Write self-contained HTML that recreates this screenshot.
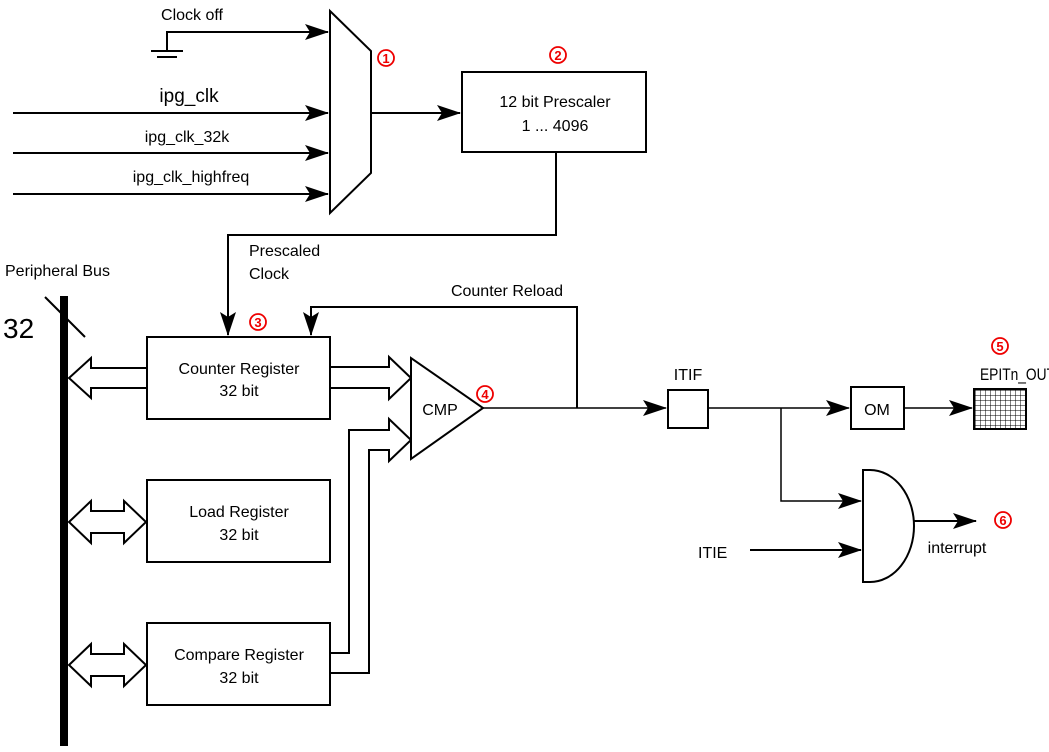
<!DOCTYPE html>
<html><head><meta charset="utf-8"><style>
html,body{margin:0;padding:0;background:#fff;}
svg{display:block;font-family:"Liberation Sans",Arial,sans-serif;}
</style></head><body>
<svg width="1049" height="752" viewBox="0 0 1049 752" xmlns="http://www.w3.org/2000/svg">
<defs>
<marker id="a" markerWidth="24" markerHeight="16" refX="23" refY="8" orient="auto" markerUnits="userSpaceOnUse">
<path d="M0,0 L24,8 L0,16 L5,8 Z" fill="#000"/></marker>
<pattern id="g" width="5" height="5" patternUnits="userSpaceOnUse"><path d="M0,0H5M0,0V5" stroke="#000" stroke-width="1" fill="none"/></pattern>
</defs>
<g stroke="#000" stroke-width="2" fill="none">
<polygon points="330,11 371,51 371,173 330,213" fill="#fff"/>
<polyline points="167,50 167,32 328,32" marker-end="url(#a)"/>
<line x1="151" y1="51" x2="183" y2="51"/>
<line x1="157" y1="57" x2="177" y2="57"/>
<line x1="13" y1="113" x2="328" y2="113" marker-end="url(#a)"/>
<line x1="13" y1="153" x2="328" y2="153" marker-end="url(#a)"/>
<line x1="13" y1="194" x2="328" y2="194" marker-end="url(#a)"/>
<line x1="371" y1="113" x2="460" y2="113" marker-end="url(#a)"/>
<rect x="462" y="72" width="184" height="80"/>
<polyline points="556,152 556,235 228,235 228,335" marker-end="url(#a)"/>
<polyline points="577,408 577,307 311,307 311,335" marker-end="url(#a)"/>
<line x1="45" y1="297" x2="85" y2="337"/>
<rect x="147" y="337" width="183" height="82"/>
<rect x="147" y="480" width="183" height="82"/>
<rect x="147" y="623" width="183" height="82"/>
<path d="M146,368 H91 V358 L69,378 L91,398 V388 H146" fill="#fff"/>
<path d="M331,367 H389 V357 L411,378 L389,399 V388 H331" fill="#fff"/>
<path d="M331,653 H349 V430 H389 V419 L411,440 L389,461 V450 H369 V673 H331" fill="#fff"/>
<path d="M69,522 L91,501 V511 H124 V501 L146,522 L124,543 V533 H91 V543 Z" fill="#fff"/>
<path d="M69,665 L91,644 V654 H124 V644 L146,665 L124,686 V676 H91 V686 Z" fill="#fff"/>
<polygon points="411,358 411,459 483,408" fill="#fff"/>
<line x1="483" y1="408" x2="666" y2="408" stroke-width="1.5" marker-end="url(#a)"/>
<rect x="668" y="390" width="40" height="38"/>
<line x1="708" y1="408" x2="849" y2="408" stroke-width="1.5" marker-end="url(#a)"/>
<polyline points="781,408 781,501 861,501" stroke-width="1.5" marker-end="url(#a)"/>
<rect x="851" y="387" width="53" height="42"/>
<line x1="904" y1="408" x2="972" y2="408" stroke-width="1.5" marker-end="url(#a)"/>
<rect x="974" y="389" width="52" height="40" fill="url(#g)"/>
<path d="M863,470 H870 A44,56 0 0 1 870,582 H863 Z" fill="#fff"/>
<line x1="914" y1="521" x2="976" y2="521" marker-end="url(#a)"/>
<line x1="750" y1="550" x2="861" y2="550" marker-end="url(#a)"/>
</g>
<rect x="60" y="296" width="8" height="450" fill="#000"/>
<g font-size="16" fill="#000" text-anchor="middle">
<text x="192" y="20">Clock off</text>
<text x="189" y="102" font-size="19">ipg_clk</text>
<text x="187" y="142">ipg_clk_32k</text>
<text x="191" y="182">ipg_clk_highfreq</text>
<text x="555" y="107">12 bit Prescaler</text>
<text x="555" y="131">1 ... 4096</text>
<text x="239" y="374">Counter Register</text>
<text x="239" y="396">32 bit</text>
<text x="239" y="517">Load Register</text>
<text x="239" y="540">32 bit</text>
<text x="239" y="660">Compare Register</text>
<text x="239" y="683">32 bit</text>
<text x="440" y="415">CMP</text>
<text x="688" y="380">ITIF</text>
<text x="877" y="415">OM</text>
<text x="957" y="553">interrupt</text>
<text x="507" y="296">Counter Reload</text>
</g>
<g font-size="16" fill="#000">
<text x="249" y="256">Prescaled</text>
<text x="249" y="279">Clock</text>
<text x="5" y="276">Peripheral Bus</text>
<text x="3" y="338" font-size="28">32</text>
<text x="980" y="380" font-size="17" textLength="75" lengthAdjust="spacingAndGlyphs">EPITn_OUT</text>
<text x="698" y="558">ITIE</text>
</g>
<g fill="none" stroke="#e00" stroke-width="1.8">
<circle cx="386" cy="58" r="8"/><circle cx="558" cy="55" r="8"/><circle cx="258" cy="322" r="8"/>
<circle cx="485" cy="394" r="8"/><circle cx="1000" cy="346" r="8"/><circle cx="1003" cy="520" r="8"/>
</g>
<g fill="#e00" font-size="13" font-weight="bold" text-anchor="middle">
<text x="386" y="63">1</text><text x="558" y="60">2</text><text x="258" y="327">3</text>
<text x="485" y="399">4</text><text x="1000" y="351">5</text><text x="1003" y="525">6</text>
</g>
</svg>
</body></html>
